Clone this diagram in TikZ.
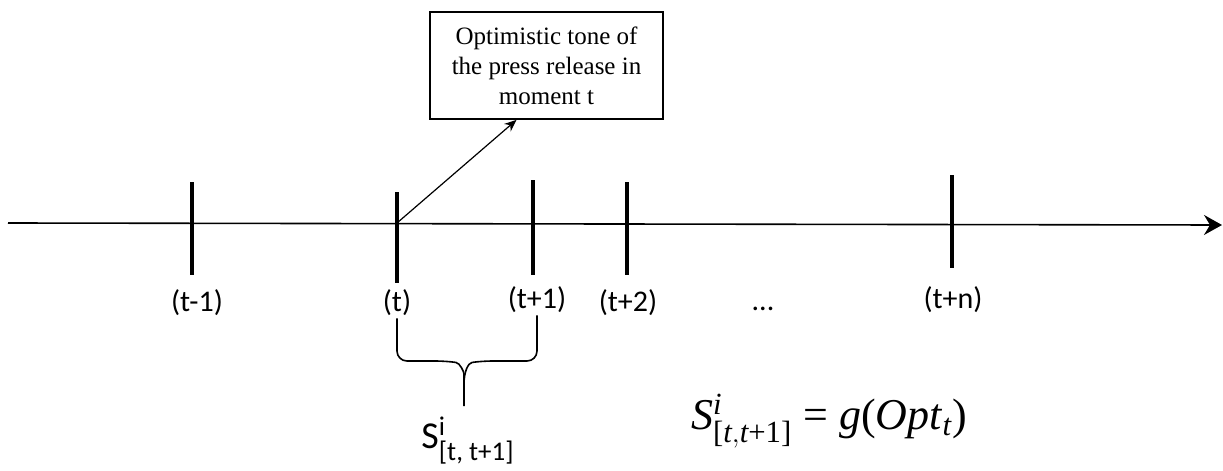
\documentclass[tikz,border=0pt]{standalone}
\usepackage{amsmath}
\usepackage{fontspec}
\setmainfont{Liberation Serif}
\newfontfamily\calib{Carlito}
\usetikzlibrary{arrows.meta,positioning}

\begin{document}
\begin{tikzpicture}[x=0.5pt,y=-0.5pt,
    tick/.style={line width=1.6pt},
    lbl/.style={font=\calib\fontsize{15}{17}\selectfont,inner sep=1pt},
    brace/.style={line width=0.8pt,rounded corners=5pt}]
\useasboundingbox (0,0) rectangle (1223,471);
% time axis
\coordinate (start) at (8,223);
\coordinate (end) at (1222,225);
\draw[line width=0.8pt,-{Stealth[length=9pt,width=10pt,inset=3pt]}] (start) -- (end);
% ticks
\draw[tick] (192,182) -- (192,275);
\draw[tick] (397,192) -- (397,283);
\draw[tick] (533,180) -- (533,275);
\draw[tick] (627,182) -- (627,275);
\draw[tick] (952,175) -- (952,268);
\coordinate (t0) at (397,223);
% labels
\node[lbl] (lm1) at (197,303) {(t-1)};
\node[lbl] (l0) at (397,303) {(t)};
\node[lbl] (l1) at (537,300) {(t+1)};
\node[lbl] (l2) at (628,303) {(t+2)};
\node[lbl] (ldots) at (763,309) {...};
\node[lbl] (ln) at (953,300) {(t+n)};
% press release
\node[draw,line width=0.9pt,minimum width=116.5pt,minimum height=53.5pt,
      align=center,font=\fontsize{12.5}{15}\selectfont] (box) at (546.5,65.5)
      {Optimistic tone of\\the press release in\\moment t};
\draw[line width=0.6pt,-{Stealth[length=6pt,width=5pt]}] (t0) -- ([xshift=-15pt]box.south);
% brace
\node[lbl,font=\calib\fontsize{19}{21}\selectfont] (s) at (468,441)
      {S$^{\text{\fontsize{13.5}{15}\selectfont i}}_{\text{\fontsize{13.5}{15}\selectfont [t, t+1]}}$};
\coordinate (tip) at (464,406);
\draw[brace] (l0.south) |- ([xshift=-9pt,yshift=22.5pt]tip)
      .. controls ([xshift=-2pt,yshift=21.5pt]tip) and ([yshift=17pt]tip) .. ([yshift=11pt]tip) -- (tip);
\draw[brace] (l1.south) |- ([xshift=9pt,yshift=22.5pt]tip)
      .. controls ([xshift=2pt,yshift=21.5pt]tip) and ([yshift=17pt]tip) .. ([yshift=11pt]tip);
% formula
\node (eq) at (829,421) {\fontsize{22}{26}\selectfont
      \textit{S}$^{\textit{i}}_{\text{[}\textit{t},\textit{t}\text{+1]}}$ = \textit{g}(\textit{Opt}$_{\textit{t}}$)};
\end{tikzpicture}
\end{document}
